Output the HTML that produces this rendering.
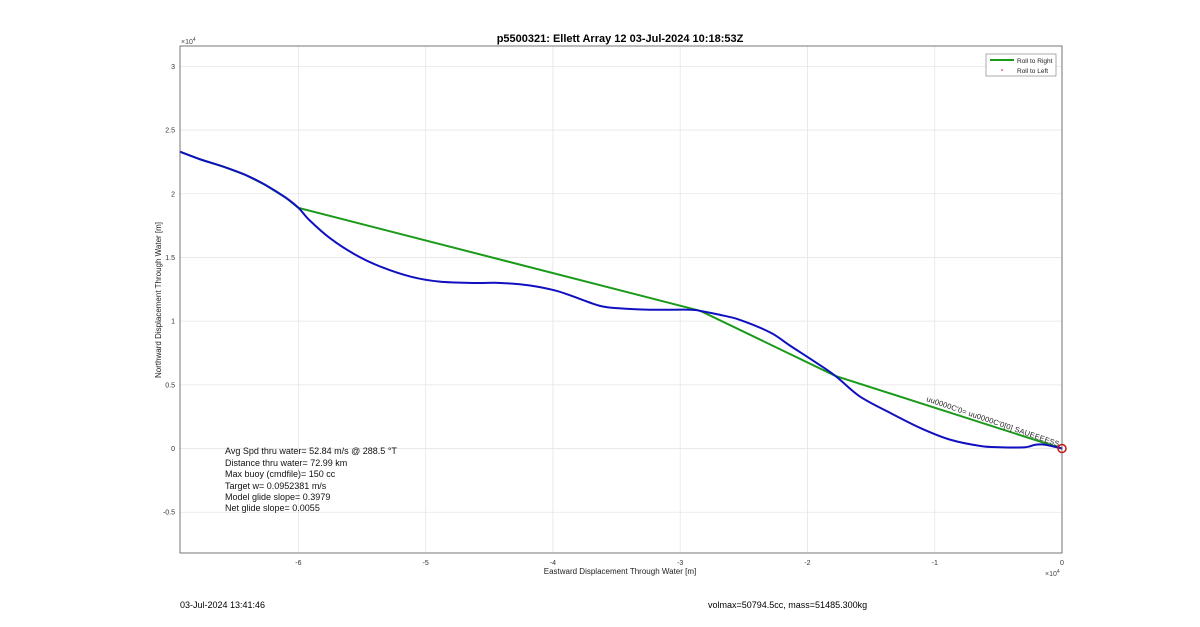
<!DOCTYPE html>
<html><head><meta charset="utf-8"><style>
body{margin:0;background:#fff;width:1200px;height:622px;overflow:hidden;font-family:"Liberation Sans",sans-serif}
svg text{font-family:"Liberation Sans",sans-serif}
</style></head><body>
<svg id="chart" width="1200" height="622" xmlns="http://www.w3.org/2000/svg">
<rect x="0" y="0" width="1200" height="622" fill="#fff"/>
<g id="grid"></g>
<g id="ticks"></g>
<g id="series"></g>
<rect x="180" y="46" width="882" height="507" fill="none" stroke="#555" stroke-width="0.8"/>
<text x="620" y="42" font-size="11" font-weight="bold" text-anchor="middle">p5500321: Ellett Array 12 03-Jul-2024 10:18:53Z</text>
<text x="181" y="44" font-size="7" fill="#444">×10<tspan dy="-3" font-size="5">4</tspan></text>
<text x="1045" y="576" font-size="7" fill="#444">×10<tspan dy="-3" font-size="5">4</tspan></text>
<text x="620" y="574" font-size="8" text-anchor="middle" fill="#222">Eastward Displacement Through Water [m]</text>
<text x="161" y="300" font-size="8" text-anchor="middle" fill="#222" transform="rotate(-90 161 300)">Northward Displacement Through Water [m]</text>
<g font-size="9" fill="#111">
<text x="225" y="454">Avg Spd thru water= 52.84 m/s @ 288.5 °T</text>
<text x="225" y="466">Distance thru water= 72.99 km</text>
<text x="225" y="477">Max buoy (cmdfile)= 150 cc</text>
<text x="225" y="489">Target w= 0.0952381 m/s</text>
<text x="225" y="500">Model glide slope= 0.3979</text>
<text x="225" y="511">Net glide slope= 0.0055</text>
</g>
<g>
<rect x="986" y="54" width="70" height="22" fill="#fff" stroke="#888" stroke-width="0.7"/>
<line x1="990" y1="60" x2="1014" y2="60" stroke="#1a9a1a" stroke-width="2"/>
<text x="1017" y="63" font-size="6.5" fill="#222">Roll to Right</text>
<circle cx="1002" cy="70" r="0.8" fill="#c00"/>
<text x="1017" y="73" font-size="6.5" fill="#222">Roll to Left</text>
</g>
<text x="926" y="401" font-size="7.5" fill="#222" transform="rotate(19 926 401)" textLength="140">uu0000C'0= uu0000C'0[0] SAUEEEESS</text>
<text x="180" y="608" font-size="9">03-Jul-2024 13:41:46</text>
<text x="708" y="608" font-size="9">volmax=50794.5cc, mass=51485.300kg</text>
</svg>
<script>
const xTicks=[-6,-5,-4,-3,-2,-1,0];
const yTicks=[-0.5,0,0.5,1,1.5,2,2.5,3];
const yTickLabels=["-0.5","0","0.5","1","1.5","2","2.5","3"];
const greenX=[-6.93,-6.77,-6.58,-6.42,-6.26,-6.10,-6.00,-2.84,-1.78,0];
const greenY=[2.33,2.27,2.21,2.15,2.07,1.97,1.89,1.08,0.57,0];
const blueX=[-6.93,-6.77,-6.58,-6.42,-6.26,-6.10,-6.00,-5.91,-5.75,-5.55,-5.36,-5.12,-4.89,-4.61,-4.41,-4.18,-3.98,-3.83,-3.63,-3.47,-3.24,-2.92,-2.84,-2.69,-2.53,-2.29,-2.14,-1.94,-1.78,-1.59,-1.35,-1.11,-0.88,-0.64,-0.49,-0.29,-0.21,-0.13,0];
const blueY=[2.33,2.27,2.21,2.15,2.07,1.97,1.89,1.79,1.65,1.52,1.43,1.35,1.31,1.30,1.30,1.28,1.24,1.19,1.12,1.10,1.09,1.09,1.08,1.05,1.01,0.91,0.81,0.68,0.57,0.41,0.28,0.16,0.07,0.02,0.01,0.01,0.03,0.03,0];
const X0=-6.93,X1=0,Y0=-0.82,Y1=3.16,L=180,R=1062,T=46,B=553;
const sx=v=>L+(v-X0)/(X1-X0)*(R-L);
const sy=v=>B-(v-Y0)/(Y1-Y0)*(B-T);
const NS="http://www.w3.org/2000/svg";
const grid=document.getElementById('grid'),ticks=document.getElementById('ticks'),ser=document.getElementById('series');
function mk(t,a,p){const e=document.createElementNS(NS,t);for(const k in a)e.setAttribute(k,a[k]);p.appendChild(e);return e;}
function smooth(xs,ys){const p=xs.map((v,i)=>[sx(v),sy(ys[i])]);let d='M'+p[0][0]+','+p[0][1];
for(let i=0;i<p.length-1;i++){const a=p[Math.max(i-1,0)],b=p[i],c=p[i+1],e=p[Math.min(i+2,p.length-1)];
d+=' C'+(b[0]+(c[0]-a[0])/6)+','+(b[1]+(c[1]-a[1])/6)+' '+(c[0]-(e[0]-b[0])/6)+','+(c[1]-(e[1]-b[1])/6)+' '+c[0]+','+c[1];}return d;}
xTicks.forEach(v=>{const x=sx(v);
const g=mk('line',{x1:x,x2:x,y1:T,y2:B,stroke:'#e6e6e6','stroke-width':0.8},grid);


const t=mk('text',{x:x,y:B+12,'font-size':7,'text-anchor':'middle',fill:'#333'},ticks);t.textContent=String(v);

});
yTicks.forEach((v,i)=>{const y=sy(v);
const g=mk('line',{x1:L,x2:R,y1:y,y2:y,stroke:'#e6e6e6','stroke-width':0.8},grid);


const t=mk('text',{x:L-5,y:y+2.5,'font-size':7,'text-anchor':'end',fill:'#333'},ticks);t.textContent=yTickLabels[i];

});
const gp=mk('polyline',{points:greenX.map((v,i)=>sx(v)+','+sy(greenY[i])).join(' '),fill:'none',stroke:'#1a9a1a','stroke-width':2},ser);


const bp=mk('path',{d:smooth(blueX,blueY),fill:'none',stroke:'#1010c0','stroke-width':2,'stroke-linejoin':'round'},ser);


const c=mk('circle',{cx:sx(0),cy:sy(0),r:4,fill:'none',stroke:'#d01010','stroke-width':1.5},ser);


</script>
</body></html>
